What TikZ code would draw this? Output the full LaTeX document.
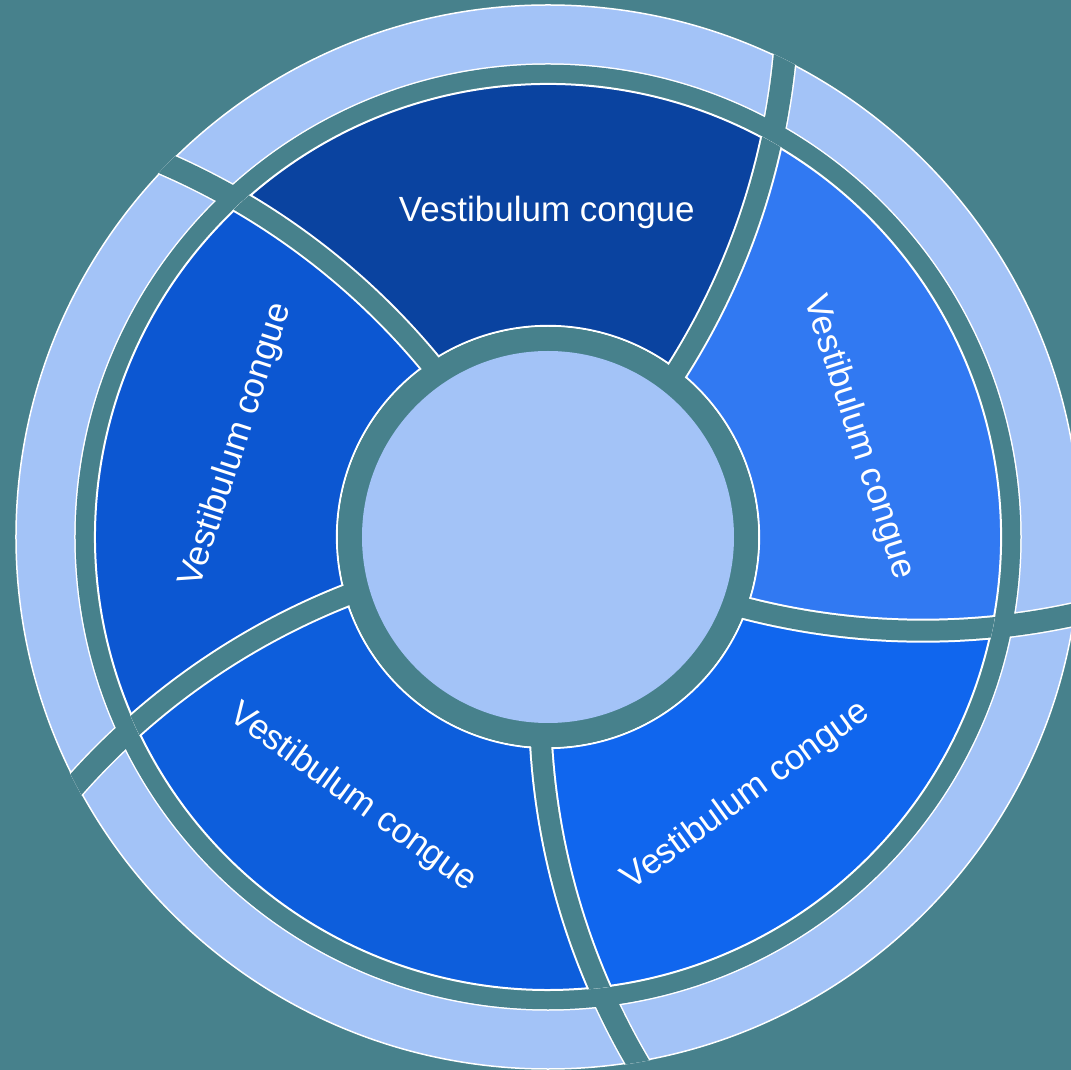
\documentclass[tikz,border=0pt]{standalone}
\usepackage{fontspec}
\setmainfont{Liberation Sans}
\definecolor{bgteal}{HTML}{47818C}
\definecolor{paleblue}{HTML}{A3C3F7}
\definecolor{segA}{HTML}{0A43A0}
\definecolor{segB}{HTML}{3179F2}
\definecolor{segC}{HTML}{1066EE}
\definecolor{segD}{HTML}{0D5EDC}
\definecolor{segE}{HTML}{0C57D2}
\begin{document}
\begin{tikzpicture}[x=1pt,y=1pt,
  seglabel/.style={text=white,font=\fontsize{35}{41}\selectfont,inner sep=0pt},
  segfill/.style={draw=white,line width=2},
  ringline/.style={draw=white,line width=1.5}]
% canvas
\useasboundingbox (-548,-533) rectangle (523,537);
\fill[bgteal] (-548,-533) rectangle (523,537);

% ---- outer ring (r = 473 .. 532) ----
\fill[paleblue,ringline] (0,0) circle[radius=532];
\draw[ringline] (0,0) circle[radius=473];
\begin{scope}
  \clip (0,0) circle[radius=533];
  \foreach \k in {0,...,4}{
    \pgfmathsetmacro\ph{130.8-72*\k}
    \draw[white,line width=25] (\ph:724) ++(\ph-164.4:713)
      arc[start angle=\ph-164.4,end angle=\ph-135.4,radius=713];
    \draw[bgteal,line width=22] (\ph:724) ++(\ph-164.4:713)
      arc[start angle=\ph-164.4,end angle=\ph-135.4,radius=713];
  }
\end{scope}
\fill[bgteal] (0,0) circle[radius=472.25];

% ---- five curved segments (r = 211 .. 453) ----
\foreach \k/\col in {0/segA,1/segB,2/segC,3/segD,4/segE}{
  \pgfmathsetmacro\ph{130.8-72*\k}
  \pgfmathsetmacro\pn{\ph+72}
  \pgfmathsetmacro\aa{52.2-72*\k}
  \pgfmathsetmacro\bb{60.5-72*\k}
  \fill[\col,segfill] (\ph:724) ++(\ph-163.12:713)
    arc[start angle=\ph-163.12,end angle=\ph-143.25,radius=713]
    arc[start angle=\bb,end angle=\bb+72,radius=453]
    arc[start angle=\pn-143.25,end angle=\pn-163.12,radius=713]
    arc[start angle=\aa+72,end angle=\aa,radius=211] -- cycle;
}
\begin{scope}
  \clip (0,0) circle[radius=454];
  \foreach \k in {0,...,4}{
    \pgfmathsetmacro\ph{130.8-72*\k}
    \draw[white,line width=24] (\ph:724) ++(\ph-164.4:713)
      arc[start angle=\ph-164.4,end angle=\ph-135.4,radius=713];
    \draw[bgteal,line width=20] (\ph:724) ++(\ph-164.4:713)
      arc[start angle=\ph-164.4,end angle=\ph-135.4,radius=713];
  }
\end{scope}
\fill[bgteal] (0,0) circle[radius=210];

% ---- hub ----
\fill[paleblue] (0,0) circle[radius=186];

% ---- labels ----
\node[seglabel] (top) at (90.2:325) {Vestibulum congue};
\node[seglabel,rotate=-72] (right) at (17.8:326) {Vestibulum congue};
\node[seglabel,rotate=36] (lowright) at (-52.6:326) {Vestibulum congue};
\node[seglabel,rotate=-36] (lowleft) at (-126.8:326) {Vestibulum congue};
\node[seglabel,rotate=72] (left) at (163.6:325) {Vestibulum congue};
\end{tikzpicture}
\end{document}
